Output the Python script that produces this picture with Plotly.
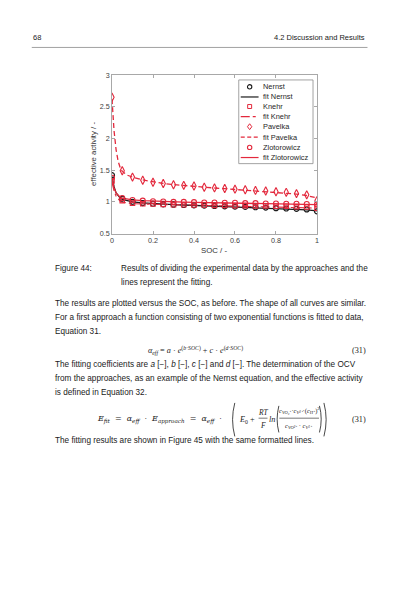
import plotly.graph_objects as go

# page is 420x595; the html body keeps an 8px margin, so the figure is drawn 8px smaller
OFF = 8
W, H = 420 - OFF, 595 - OFF

# measured data (effective activity vs SOC)
soc = [0.0, 0.05, 0.1, 0.15, 0.2, 0.25, 0.3, 0.35, 0.4, 0.45, 0.5,
       0.55, 0.6, 0.65, 0.7, 0.75, 0.8, 0.85, 0.9, 0.95, 1.0]
nernst = [1.42, 1.05, 1.00, 0.98, 0.97, 0.96, 0.955, 0.95, 0.945, 0.94, 0.935,
          0.93, 0.925, 0.92, 0.915, 0.91, 0.90, 0.895, 0.89, 0.88, 0.85]
knehr = [1.33, 1.02, 0.98, 0.97, 0.965, 0.96, 0.955, 0.955, 0.95, 0.95, 0.945,
         0.945, 0.94, 0.94, 0.935, 0.935, 0.93, 0.93, 0.925, 0.92, 0.90]
pavelka = [2.65, 1.49, 1.39, 1.34, 1.31, 1.29, 1.27, 1.26, 1.25, 1.23, 1.22,
           1.21, 1.20, 1.19, 1.18, 1.17, 1.16, 1.15, 1.13, 1.11, 1.02]
zlotorowicz = [1.38, 1.06, 1.03, 1.02, 1.01, 1.005, 1.0, 1.0, 0.995, 0.99, 0.99,
               0.985, 0.985, 0.98, 0.98, 0.975, 0.975, 0.97, 0.97, 0.965, 0.96]

# fitted curves
soc_fit = [0.0, 0.01, 0.02, 0.03, 0.04, 0.05, 0.075, 0.1, 0.15, 0.2, 0.25, 0.3, 0.35,
           0.4, 0.45, 0.5, 0.55, 0.6, 0.65, 0.7, 0.75, 0.8, 0.85, 0.9, 0.95, 1.0]
nernst_fit = [1.40, 1.24, 1.14, 1.09, 1.06, 1.04, 1.015, 1.00, 0.985, 0.972, 0.963, 0.956, 0.95,
              0.944, 0.938, 0.932, 0.926, 0.92, 0.914, 0.908, 0.902, 0.896, 0.89, 0.882, 0.872, 0.858]
knehr_fit = [1.31, 1.17, 1.09, 1.04, 1.01, 0.995, 0.98, 0.972, 0.966, 0.962, 0.958, 0.955, 0.952,
             0.95, 0.947, 0.944, 0.941, 0.938, 0.935, 0.932, 0.929, 0.926, 0.922, 0.918, 0.912, 0.902]
pavelka_fit = [2.62, 2.12, 1.82, 1.64, 1.54, 1.48, 1.42, 1.39, 1.345, 1.315, 1.29, 1.272, 1.256,
               1.242, 1.23, 1.218, 1.207, 1.196, 1.185, 1.174, 1.163, 1.151, 1.138, 1.122, 1.10, 1.06]
zlotorowicz_fit = [1.36, 1.22, 1.14, 1.10, 1.075, 1.06, 1.04, 1.03, 1.02, 1.012, 1.006, 1.001, 0.997,
                   0.993, 0.99, 0.987, 0.984, 0.981, 0.978, 0.975, 0.972, 0.969, 0.966, 0.963, 0.96, 0.955]

x_ticks = [0, 0.2, 0.4, 0.6, 0.8, 1]
x_ticklabels = ["0", "0.2", "0.4", "0.6", "0.8", "1"]
y_ticks = [0.5, 1, 1.5, 2, 2.5, 3]
y_ticklabels = ["0.5", "1", "1.5", "2", "2.5", "3"]

legend_labels = ["Nernst", "fit Nernst", "Knehr", "fit Knehr",
                 "Pavelka", "fit Pavelka", "Zlotorowicz", "fit Zlotorowicz"]

RED = "#e3283c"
BLACK = "#1c1c1c"
SANS = "Liberation Sans, Arial, sans-serif"
SERIF = "Liberation Serif, serif"
SERIF2 = "DejaVu Serif, serif"
NB = "\u00a0"


# page pixel -> paper coordinate
def px(x):
    return (x - OFF) / W


def py(y):
    return 1 - (y - OFF) / H


fig = go.Figure()

# fit lines
fig.add_trace(go.Scatter(x=soc_fit, y=nernst_fit, mode="lines", line=dict(color=BLACK, width=1.3)))
fig.add_trace(go.Scatter(x=soc_fit, y=knehr_fit, mode="lines", line=dict(color=RED, width=1.1, dash="dashdot")))
fig.add_trace(go.Scatter(x=soc_fit, y=pavelka_fit, mode="lines", line=dict(color=RED, width=1.3, dash="5px,3px")))
fig.add_trace(go.Scatter(x=soc_fit, y=zlotorowicz_fit, mode="lines", line=dict(color=RED, width=1.3)))

# measured points
fig.add_trace(go.Scatter(x=soc, y=nernst, mode="markers",
                         marker=dict(symbol="circle-open", size=5, color=BLACK, line=dict(width=1.2))))
fig.add_trace(go.Scatter(x=soc, y=knehr, mode="markers",
                         marker=dict(symbol="square-open", size=4.5, color=RED, line=dict(width=1.1))))
fig.add_trace(go.Scatter(x=soc, y=pavelka, mode="markers",
                         marker=dict(symbol="diamond-tall-open", size=6, color=RED, line=dict(width=1.1))))
fig.add_trace(go.Scatter(x=soc, y=zlotorowicz, mode="markers",
                         marker=dict(symbol="circle-open", size=5, color=RED, line=dict(width=1.1))))

axis_common = dict(showline=True, linecolor="#a8a8a8", linewidth=0.8, mirror="ticks",
                   ticks="inside", ticklen=3, tickcolor="#a8a8a8", tickwidth=0.8,
                   showgrid=False, zeroline=False,
                   tickfont=dict(family=SANS, size=7.2, color="#404040"))

fig.update_layout(
    width=W, height=H,
    margin=dict(l=0, r=0, t=0, b=0, pad=0),
    paper_bgcolor="white", plot_bgcolor="white",
    showlegend=False,
    xaxis=dict(domain=[px(111), px(318)], range=[0, 1], tickvals=x_ticks, ticktext=x_ticklabels,
               **axis_common),
    yaxis=dict(domain=[py(233), py(72)], range=[0.5, 3], tickvals=y_ticks, ticktext=y_ticklabels,
               **axis_common),
)

shapes = []
annotations = []


def note(x, y, text, size=8.2, anchor="left", family=SANS, color="#1a1a1a"):
    annotations.append(dict(x=px(x), y=py(y), xref="paper", yref="paper", text=text,
                            showarrow=False, xanchor=anchor, yanchor="middle", borderpad=0,
                            font=dict(family=family, size=size, color=color)))


def hline(x0, x1, y, color="#1a1a1a", width=0.6):
    shapes.append(dict(type="line", xref="paper", yref="paper", x0=px(x0), x1=px(x1),
                       y0=py(y), y1=py(y), line=dict(color=color, width=width)))


def paren(x, y0, y1, bulge, width=0.8):
    ym = (y0 + y1) / 2
    path = "M {},{} Q {},{} {},{}".format(px(x), py(y0), px(x - bulge), py(ym), px(x), py(y1))
    shapes.append(dict(type="path", xref="paper", yref="paper", path=path,
                       line=dict(color="#1a1a1a", width=width)))


# header
note(30, 34, "68", size=7.5)
note(367, 34, "4.2 Discussion and Results", size=7.5, anchor="right")
hline(30, 369, 44, color="#8a8a8a", width=0.8)

# axis titles
note(214, 250, "SOC / -", size=7.8, anchor="center", color="#333333")
annotations.append(dict(x=px(93), y=py(152), xref="paper", yref="paper", text="effective activity / -",
                        showarrow=False, textangle=-90, xanchor="center", yanchor="middle",
                        font=dict(family=SANS, size=7.8, color="#333333")))

# legend box
shapes.append(dict(type="rect", xref="paper", yref="paper", x0=px(239), x1=px(314), y0=py(162), y1=py(77),
                   line=dict(color="#8c8c8c", width=0.8), fillcolor="white", layer="above"))
leg_y = [84, 94.3, 104, 114.2, 124.5, 135, 145.5, 155.8]
cx = 250
for i, lab in enumerate(legend_labels):
    yy = leg_y[i]
    note(262, yy, lab, size=7.4, color="#262626")
    col = BLACK if i < 2 else RED
    if i % 2 == 1:
        dash = ["solid", "dashdot", "4px,2.5px", "solid"][i // 2]
        shapes.append(dict(type="line", xref="paper", yref="paper", x0=px(241), x1=px(259),
                           y0=py(yy), y1=py(yy), line=dict(color=col, width=1.2, dash=dash),
                           layer="above"))
    else:
        kind = i // 2
        r = 2.2
        if kind in (0, 3):
            shapes.append(dict(type="circle", xref="paper", yref="paper", x0=px(cx - r), x1=px(cx + r),
                               y0=py(yy + r), y1=py(yy - r), line=dict(color=col, width=1.1), layer="above"))
        elif kind == 1:
            shapes.append(dict(type="rect", xref="paper", yref="paper", x0=px(cx - 2), x1=px(cx + 2),
                               y0=py(yy + 2), y1=py(yy - 2), line=dict(color=col, width=1.0), layer="above"))
        else:
            path = "M {},{} L {},{} L {},{} L {},{} Z".format(
                px(cx), py(yy - 3), px(cx + 2.2), py(yy), px(cx), py(yy + 3), px(cx - 2.2), py(yy))
            shapes.append(dict(type="path", xref="paper", yref="paper", path=path,
                               line=dict(color=col, width=1.0), layer="above"))

# caption
note(52, 269, "Figure 44:")
note(119, 269, "Results of dividing the experimental data by the approaches and the")
note(119, 283, "lines represent the fitting.")

# body text
note(52, 304, "The results are plotted versus the SOC, as before. The shape of all curves are similar.")
note(52, 318, "For a first approach a function consisting of two exponential functions is fitted to data,")
note(52, 332, "Equation 31.")
note(195, 352, "<i>α</i><sub><i>eff</i></sub>" + NB + "=" + NB + "<i>a</i> · <i>e</i><sup>(<i>b</i>·<i>SOC</i>)</sup>"
               + NB + "+" + NB + "<i>c</i> · <i>e</i><sup>(<i>d</i>·<i>SOC</i>)</sup>",
     size=8.2, anchor="center", family=SERIF)
note(368, 352, "(31)", size=8.2, anchor="right", family=SERIF)
note(52, 366, "The fitting coefficients are <i>a</i> [−], <i>b</i> [−], <i>c</i> [−] and <i>d</i> [−]."
              " The determination of the OCV")
note(52, 380, "from the approaches, as an example of the Nernst equation, and the effective activity")
note(52, 394, "is defined in Equation 32.")

# equation 32
ey = 422
dot = NB * 2 + "·" + NB * 2
eq = NB * 2 + "=" + NB * 2
note(95, ey, "<i>E</i><sub><i>fit</i></sub>" + eq + "<i>α</i><sub><i>eff</i></sub>" + dot
             + "<i>E</i><sub><i>approach</i></sub>" + eq + "<i>α</i><sub><i>eff</i></sub>" + dot,
     size=8, family=SERIF2)
paren(235, 405, 439, 4.5)
note(238, ey, "<i>E</i><sub>0</sub>" + NB + "+", size=8.2, family=SERIF)
note(263.5, ey - 7, "<i>RT</i>", size=7.5, anchor="center", family=SERIF)
hline(259, 268, ey - 1.5, width=0.6)
note(263.5, ey + 6, "<i>F</i>", size=7.5, anchor="center", family=SERIF)
note(268.5, ey, "<i>ln</i>", size=8.2, family=SERIF)
paren(279.5, 408, 435, 3.5)
note(300, ey - 9, "<i>c</i><sub><i>VO₂⁺</i></sub>·<i>c</i><sub><i>V²⁺</i></sub>·"
                  "(<i>c</i><sub><i>H⁺</i></sub>)<sup>2</sup>", size=6.5, anchor="center", family=SERIF)
hline(280, 320, ey - 1.5, width=0.6)
note(300, ey + 6, "<i>c</i><sub><i>VO²⁺</i></sub> · <i>c</i><sub><i>V³⁺</i></sub>",
     size=6.5, anchor="center", family=SERIF)
paren(320.5, 408, 435, -3.5)
paren(325, 405, 439, -4.5)
note(368, ey, "(31)", size=8.2, anchor="right", family=SERIF)

note(52, 443, "The fitting results are shown in Figure 45 with the same formatted lines.")

fig.update_layout(shapes=shapes, annotations=annotations)

fig.write_html("out.html")
